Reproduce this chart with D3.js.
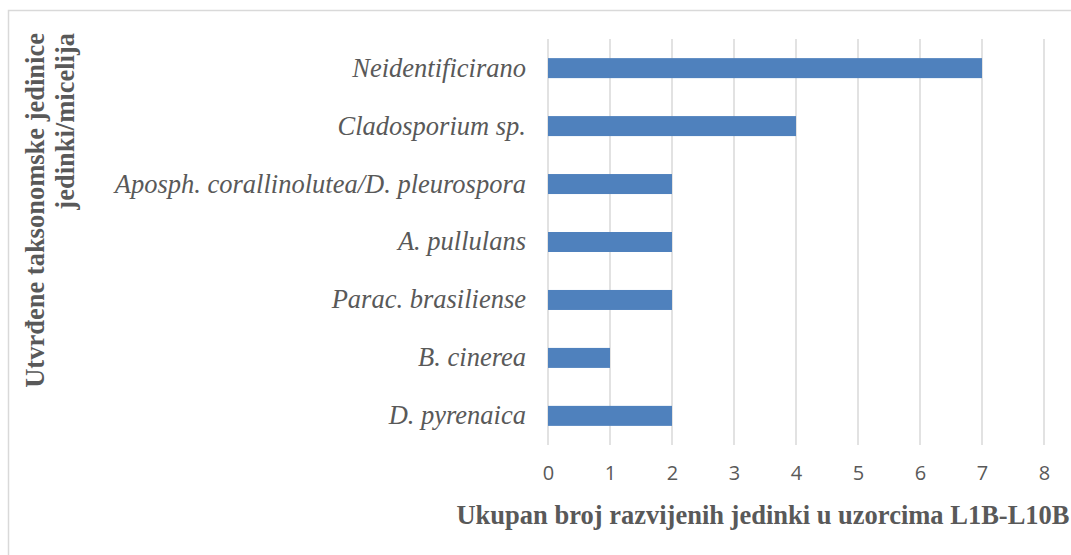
<!DOCTYPE html>
<html>
<head>
<meta charset="utf-8">
<script src="https://cdn.jsdelivr.net/npm/d3@7"></script>
<style>
  html, body { margin: 0; padding: 0; background: #fff; }
  svg { display: block; }
</style>
</head>
<body>
<div id="chart"></div>
<script>
// data
const categories = ["Neidentificirano", "Cladosporium sp.", "Aposph. corallinolutea/D. pleurospora",
                    "A. pullulans", "Parac. brasiliense", "B. cinerea", "D. pyrenaica"];
const values = [7, 4, 2, 2, 2, 1, 2];
const xTicks = [0, 1, 2, 3, 4, 5, 6, 7, 8];
const xTitle = "Ukupan broj razvijenih jedinki u uzorcima L1B-L10B";
const yTitleLines = ["Utvrđene taksonomske jedinice", "jedinki/micelija"];

const W = 1071, H = 555;
const plot = { left: 548, right: 1044, top: 39, bottom: 445 };
const textColor = "#595959";
const serif = "'Liberation Serif', 'Times New Roman', serif";

const svg = d3.select("#chart").append("svg").attr("width", W).attr("height", H);

// chart frame (only top & left edges visible)
svg.append("path")
   .attr("d", `M8.5,${H} V10.5 H${W}`)
   .attr("fill", "none").attr("stroke", "#d9d9d9").attr("stroke-width", 1.5);

const x = d3.scaleLinear().domain([0, 8]).range([plot.left, plot.right]);
const y = d3.scaleBand().domain(categories).range([plot.top, plot.bottom]).paddingInner(0.655).paddingOuter(0.33);

// gridlines
svg.append("g").selectAll("line").data(xTicks).join("line")
   .attr("x1", d => x(d)).attr("x2", d => x(d))
   .attr("y1", plot.top).attr("y2", plot.bottom)
   .attr("stroke", "#d9d9d9").attr("stroke-width", 1.5);

// bars
svg.append("g").selectAll("rect").data(values).join("rect")
   .attr("x", x(0))
   .attr("y", (d, i) => y(categories[i]))
   .attr("width", d => x(d) - x(0))
   .attr("height", y.bandwidth())
   .attr("fill", "#4f81bd");

// x axis tick labels
const xAxis = d3.axisBottom(x).tickValues(xTicks).tickSize(0).tickPadding(0).tickFormat(d3.format("d"));
const gx = svg.append("g").attr("transform", `translate(0,${plot.bottom + 21})`).call(xAxis);
gx.select(".domain").remove();
gx.selectAll("text")
  .attr("font-family", "'Open Sans', sans-serif").attr("font-size", 20)
  .attr("fill", textColor);

// y axis category labels
const yAxis = d3.axisLeft(y).tickSize(0).tickPadding(0);
const gy = svg.append("g").attr("transform", `translate(${plot.left - 22},0)`).call(yAxis);
gy.select(".domain").remove();
gy.selectAll("text")
  .attr("font-family", serif)
  .attr("font-style", "italic").attr("font-size", 26.5)
  .attr("fill", textColor);

// x title
svg.append("text")
   .attr("x", 763).attr("y", 524)
   .attr("text-anchor", "middle")
   .attr("font-family", serif)
   .attr("font-weight", "bold").attr("font-size", 26.5)
   .attr("fill", textColor)
   .text(xTitle);

// y title, two rotated lines anchored at the top
svg.append("g").selectAll("text").data(yTitleLines).join("text")
   .attr("transform", (d, i) => `translate(${44 + i * 30},33) rotate(-90)`)
   .attr("text-anchor", "end")
   .attr("font-family", serif)
   .attr("font-weight", "bold").attr("font-size", 26.5)
   .attr("fill", textColor)
   .text(d => d);
</script>
</body>
</html>
